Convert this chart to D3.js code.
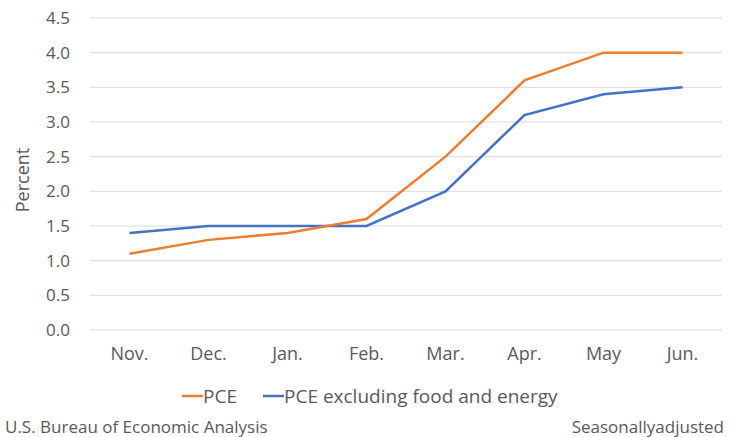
<!DOCTYPE html>
<html>
<head>
<meta charset="utf-8">
<script src="https://cdn.jsdelivr.net/npm/d3@7"></script>
<style>
  body { margin: 0; background: #fff; }
  svg text { font-family: "Open Sans", "Noto Sans", sans-serif; fill: #595959; }
</style>
</head>
<body>
<script>
// chart data
var months = ["Nov.", "Dec.", "Jan.", "Feb.", "Mar.", "Apr.", "May", "Jun."];
var pce = [1.1, 1.3, 1.4, 1.6, 2.5, 3.6, 4.0, 4.0];
var pceCore = [1.4, 1.5, 1.5, 1.5, 2.0, 3.1, 3.4, 3.5];
var yTicks = [0, 0.5, 1, 1.5, 2, 2.5, 3, 3.5, 4, 4.5];

var width = 733, height = 437;
var margin = {top: 18, right: 11, bottom: 107, left: 90};

var svg = d3.select("body")
            .append("svg")
            .attr("width", width)
            .attr("height", height);

var x = d3.scaleBand()
          .domain(months)
          .range([margin.left, width - margin.right]);

var y = d3.scaleLinear()
          .domain([0, 4.5])
          .range([height - margin.bottom, margin.top]);

// gridlines
svg.append("g")
    .selectAll("line")
    .data(yTicks)
  .enter().append("line")
    .attr("x1", margin.left)
    .attr("x2", width - margin.right)
    .attr("y1", function(d) { return y(d); })
    .attr("y2", function(d) { return y(d); })
    .style("stroke", "#d9d9d9")
    .style("stroke-width", 1);

// y axis labels
var yAxis = d3.axisLeft(y)
              .tickValues(yTicks)
              .tickFormat(d3.format(".1f"))
              .tickSize(0)
              .tickPadding(20);

svg.append("g")
    .attr("transform", "translate(" + margin.left + ",0)")
    .call(yAxis)
    .call(function(g) { g.select(".domain").remove(); })
    .selectAll("text")
    .style("font-size", "17px")
    .style("fill", "#595959");

// x axis labels
var xAxis = d3.axisBottom(x).tickSize(0).tickPadding(17);

svg.append("g")
    .attr("transform", "translate(0," + (height - margin.bottom) + ")")
    .call(xAxis)
    .call(function(g) { g.select(".domain").remove(); })
    .selectAll("text")
    .style("font-size", "18px")
    .style("fill", "#595959");

// axis title
svg.append("text")
    .attr("transform", "translate(29,180) rotate(-90)")
    .attr("text-anchor", "middle")
    .style("font-size", "18px")
    .text("Percent");

var line = d3.line()
             .x(function(d, i) { return x(months[i]) + x.bandwidth() / 2; })
             .y(function(d) { return y(d); });

svg.append("path")
    .datum(pceCore)
    .attr("d", line)
    .style("fill", "none")
    .style("stroke", "#4472C4")
    .style("stroke-width", 2.5);

svg.append("path")
    .datum(pce)
    .attr("d", line)
    .style("fill", "none")
    .style("stroke", "#ED7D31")
    .style("stroke-width", 2.5);

// legend
var legend = [
  {name: "PCE", color: "#ED7D31", x: 182},
  {name: "PCE excluding food and energy", color: "#4472C4", x: 263}
];

var lg = svg.append("g")
    .selectAll("g")
    .data(legend)
  .enter().append("g")
    .attr("transform", function(d) { return "translate(" + d.x + ",396)"; });

lg.append("line")
    .attr("x1", 0)
    .attr("x2", 21)
    .style("stroke", function(d) { return d.color; })
    .style("stroke-width", 2.5);

lg.append("text")
    .attr("x", 21)
    .attr("dy", "0.35em")
    .style("font-size", "19px")
    .text(function(d) { return d.name; });

// footer
svg.append("text")
    .attr("x", 5)
    .attr("y", 433)
    .style("font-size", "17px")
    .text("U.S. Bureau of Economic Analysis");

svg.append("text")
    .attr("x", 724)
    .attr("y", 433)
    .attr("text-anchor", "end")
    .style("font-size", "17px")
    .text("Seasonallyadjusted");
</script>
</body>
</html>
